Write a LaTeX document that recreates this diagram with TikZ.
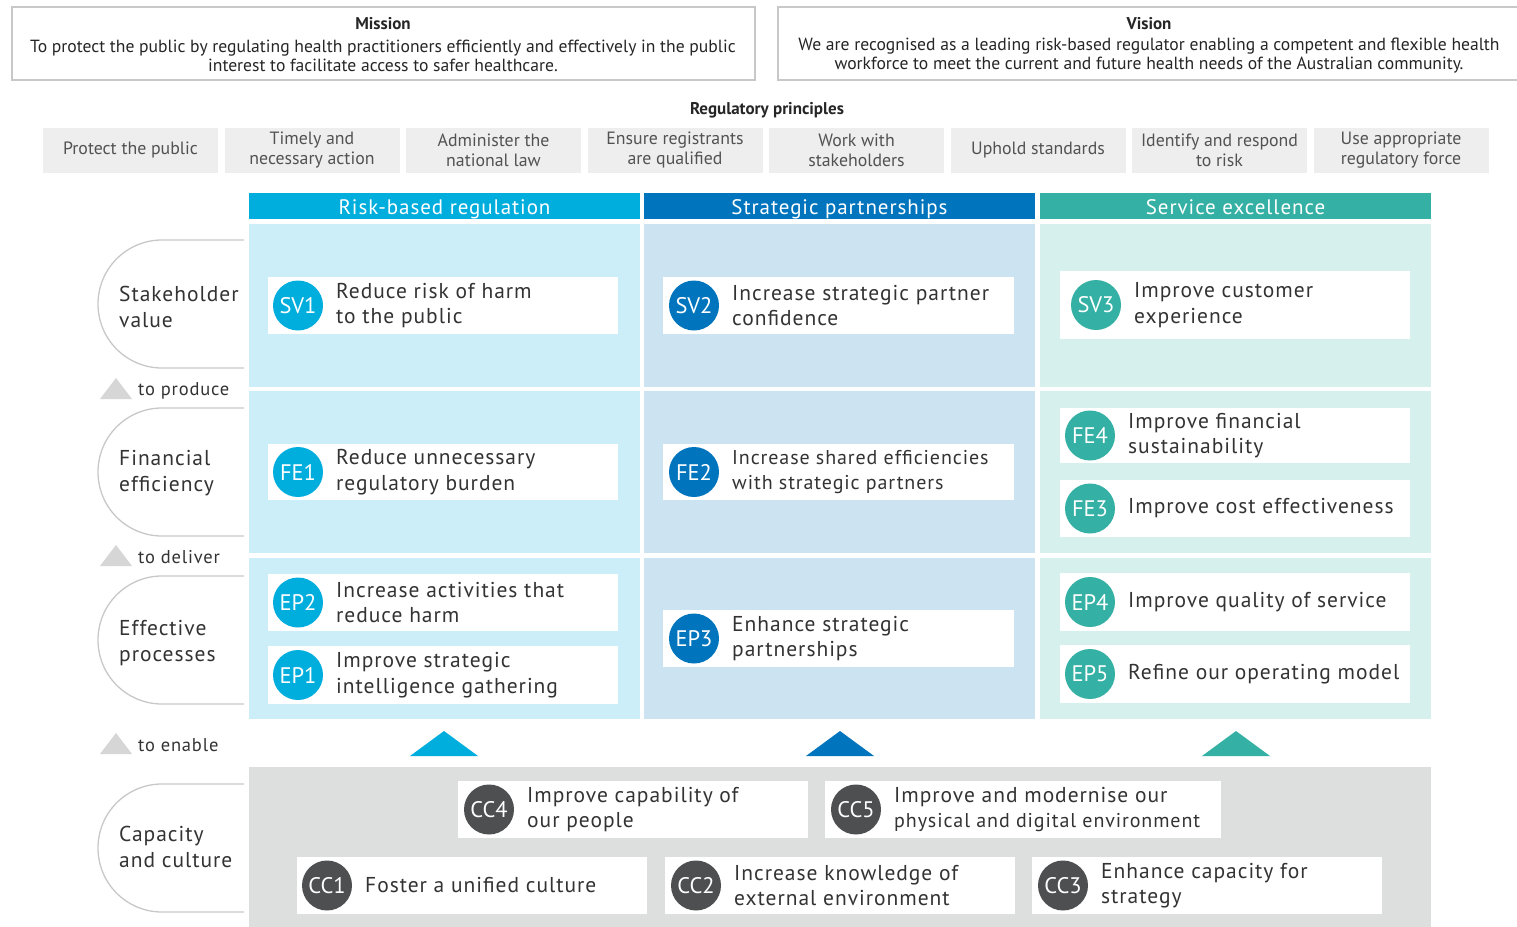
\documentclass[tikz,border=0pt]{standalone}
\usepackage{fontspec}
\setmainfont{PT Sans}
\newfontfamily\dinfont{PT Sans}[LetterSpace=4.5]
\newcommand{\tightfont}{\fontsize{20}{25.5}\selectfont}
\definecolor{riskH}{RGB}{0,174,222}
\definecolor{partH}{RGB}{0,117,190}
\definecolor{servH}{RGB}{52,176,164}
\definecolor{riskL}{RGB}{204,238,248}
\definecolor{partL}{RGB}{204,227,241}
\definecolor{servL}{RGB}{213,240,237}
\definecolor{prinfill}{RGB}{238,238,238}
\definecolor{capfill}{RGB}{221,222,222}
\definecolor{ccdark}{RGB}{77,79,81}
\definecolor{ink}{RGB}{51,51,51}
\definecolor{softgray}{RGB}{214,214,214}
\definecolor{edge}{RGB}{200,200,200}

% one objective: name, x1, y1, x2, y2, badge offset, colour, code, text
\newcommand{\goal}[9]{%
  \node[goalbox, minimum width={#4-#2}, minimum height={#5-#3}, anchor=north west] (#1) at (#2,#3) {};
  \node[badge, fill=#7] (#1-b) at ([xshift=#6]#1.west) {#8};
  \node[goaltext] (#1-t) at ([xshift=#6+38]#1.west) {#9};
}

\begin{document}
\begin{tikzpicture}[x=1pt,y=-1pt,
  topbox/.style={draw=edge, line width=1.4pt, fill=white, inner sep=0, outer sep=0},
  prinbox/.style={fill=prinfill, minimum width=175, minimum height=45, inner sep=0, outer sep=0,
    align=center, text=ink!85, font=\fontsize{17.8}{20}\selectfont},
  headbox/.style={minimum width=391, minimum height=26, inner sep=0, outer sep=0, text=white,
    text height=18, text depth=2, font=\dinfont\fontsize{21}{24}\selectfont},
  cellbox/.style={minimum width=391, inner sep=0, outer sep=0, anchor=north west},
  goalbox/.style={fill=white, inner sep=0, outer sep=0},
  badge/.style={circle, minimum size=50, inner sep=0, text=white, font=\fontsize{22.5}{24}\selectfont},
  goaltext/.style={anchor=west, align=left, inner sep=0, text=ink, font=\dinfont\fontsize{21.5}{25.5}\selectfont},
  rowlabel/.style={anchor=west, align=left, inner sep=0, text=ink, font=\dinfont\fontsize{21.5}{25.5}\selectfont},
  steplabel/.style={anchor=west, inner sep=0, text=ink, font=\dinfont\fontsize{18.5}{20}\selectfont},
  bracket/.style={draw=edge, line width=1.3pt}
]
\useasboundingbox (0,0) rectangle (1517,926);
\fill[white] (0,0) rectangle (1517,926);

% mission and vision
\node[topbox, minimum width=743, minimum height=73, anchor=north west] (mission) at (12,7) {};
\node[font=\bfseries\fontsize{17}{18}\selectfont, text=black!85] (missionT) at (383,24) {Mission};
\node[align=center, font=\fontsize{17.6}{19}\selectfont, text=black!85] (missionB) at (383,56)
  {To protect the public by regulating health practitioners efficiently and effectively in the public\\
   interest to facilitate access to safer healthcare.};
\node[topbox, minimum width=750, minimum height=73, anchor=north west] (vision) at (778,7) {};
\node[font=\bfseries\fontsize{17}{18}\selectfont, text=black!85] (visionT) at (1149,24) {Vision};
\node[align=center, font=\fontsize{17.6}{19}\selectfont, text=black!85] (visionB) at (1149,56)
  {We are recognised as a leading risk-based regulator enabling a competent and flexible health\\
   workforce to meet the current and future health needs of the Australian community.};

% regulatory principles
\node[font=\bfseries\fontsize{17}{18}\selectfont, text=black!85] (regp) at (767,110) {Regulatory principles};
\foreach \t [count=\i] in {Protect the public, {Timely and\\necessary action}, {Administer the\\national law},
    {Ensure registrants\\are qualified}, {Work with\\stakeholders}, Uphold standards,
    {Identify and respond\\to risk}, {Use appropriate\\regulatory force}}
  \node[prinbox] (p\i) at ({43+87.5+(\i-1)*181.5},150) {\t};

% strategy columns
\node[headbox, fill=riskH, anchor=north west] (hRisk) at (249,193) {Risk-based regulation};
\node[headbox, fill=partH, anchor=north west] (hPart) at (644,193) {Strategic partnerships};
\node[headbox, fill=servH, anchor=north west] (hServ) at (1040,193) {Service excellence};

\foreach \r/\ya/\h in {1/224/163, 2/391/162, 3/558/161} {
  \node[cellbox, fill=riskL, minimum height=\h] (c\r-1) at (249,\ya) {};
  \node[cellbox, fill=partL, minimum height=\h] (c\r-2) at (644,\ya) {};
  \node[cellbox, fill=servL, minimum height=\h] (c\r-3) at (1040,\ya) {};
}

% perspective labels
\foreach \ya/\nm/\dy/\txt in {240/lsv/67/{Stakeholder\\value}, 408/lfe/65/{Financial\\efficiency},
                         576/lep/67/{Effective\\processes}, 784/lcc/63/{Capacity\\and culture}} {
  \draw[bracket] (244,\ya) -- (162,\ya) arc(270:90:64) -- (244,\ya+128);
  \node[rowlabel] (\nm) at (119,\ya+\dy) {\txt};
}

% links between perspectives
\foreach \yc/\nm/\txt in {389/sprod/to produce, 556/sdel/to deliver, 744/sen/to enable} {
  \fill[softgray] (100,\yc+10) -- (116,\yc-11) -- (132,\yc+10) -- cycle;
  \node[steplabel] (\nm) at (138,\yc+1.5) {\txt};
}

% objectives
\goal{sv1}{268}{277}{618}{334}{30}{riskH}{SV1}{Reduce risk of harm\\to the public}
\goal{sv2}{663}{277}{1014}{334}{31}{partH}{SV2}{Increase strategic partner\\confidence}
\goal{sv3}{1060}{271}{1410}{339}{36}{servH}{SV3}{Improve customer\\experience}

\goal{fe1}{268}{444}{618}{500}{30}{riskH}{FE1}{Reduce unnecessary\\regulatory burden}
\goal{fe2}{663}{444}{1014}{500}{31}{partH}{FE2}{\tightfont Increase shared efficiencies\\\tightfont with strategic partners}
\goal{fe4}{1060}{408}{1410}{463}{30}{servH}{FE4}{Improve financial\\sustainability}
\goal{fe3}{1060}{480}{1410}{537}{30}{servH}{FE3}{Improve cost effectiveness}

\goal{ep2}{268}{574}{618}{631}{30}{riskH}{EP2}{Increase activities that\\reduce harm}
\goal{ep1}{268}{646}{618}{704}{30}{riskH}{EP1}{Improve strategic\\intelligence gathering}
\goal{ep3}{663}{610}{1014}{667}{31}{partH}{EP3}{Enhance strategic\\partnerships}
\goal{ep4}{1060}{573}{1410}{631}{30}{servH}{EP4}{Improve quality of service}
\goal{ep5}{1060}{645}{1410}{703}{30}{servH}{EP5}{Refine our operating model}

% arrows up from capacity
\fill[riskH] (410,756) -- (444,731) -- (478,756) -- cycle;
\fill[partH] (806,756) -- (840,731) -- (874,756) -- cycle;
\fill[servH] (1202,756) -- (1236,731) -- (1270,756) -- cycle;

% capacity and culture
\node[fill=capfill, minimum width=1182, minimum height=170, inner sep=0, outer sep=0, anchor=north west] (cap) at (249,767) {};
\goal{cc4}{458}{781}{808}{838}{31}{ccdark}{CC4}{Improve capability of\\our people}
\goal{cc5}{825}{781}{1221}{838}{31}{ccdark}{CC5}{Improve and modernise our\\\tightfont physical and digital environment}
\goal{cc1}{297}{857}{647}{914}{30}{ccdark}{CC1}{Foster a unified culture}
\goal{cc2}{665}{857}{1015}{914}{31}{ccdark}{CC2}{Increase knowledge of\\external environment}
\goal{cc3}{1032}{857}{1382}{914}{31}{ccdark}{CC3}{Enhance capacity for\\strategy}
\end{tikzpicture}
\end{document}
